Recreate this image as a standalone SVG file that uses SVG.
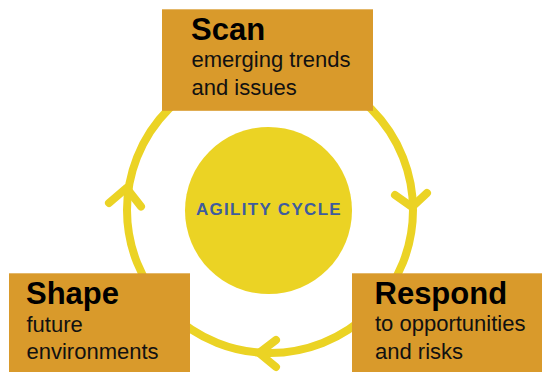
<svg xmlns="http://www.w3.org/2000/svg" width="542" height="372" viewBox="0 0 542 372">
<style>
.ring{fill:none;stroke:#EBD324;stroke-width:8}
.arr{fill:none;stroke:#EBD324;stroke-width:8;stroke-linecap:round;stroke-linejoin:round}
.box{fill:#D99A2B}
.title{font-family:"Liberation Sans",Arial,sans-serif;font-weight:bold;font-size:31px;fill:#000}
.sub{font-family:"Liberation Sans",Arial,sans-serif;font-size:22px;fill:#111}
.center{font-family:"Liberation Sans",Arial,sans-serif;font-weight:bold;font-size:17px;fill:#3E5C9E;letter-spacing:1.3px}
</style>
<rect width="542" height="372" fill="#fff"/>
<g id="connectors">
<circle class="ring" cx="270" cy="210" r="143"/>
<polyline class="arr" points="109,203 126.5,188 141,206.5"/>
<polyline class="arr" points="395,195 412,207 427,193"/>
<polyline class="arr" points="276,340 259,353 276,367"/>
</g>
<g id="agility">
<circle cx="268.5" cy="210.5" r="83.5" fill="#EBD324"/>
<text class="center" x="269" y="215" text-anchor="middle">AGILITY CYCLE</text>
</g>
<g id="scan">
<rect class="box" x="162" y="9.3" width="211" height="101.5"/>
<text class="title" x="191" y="39.5">Scan</text>
<text class="sub" x="191.5" y="67.3">emerging trends</text>
<text class="sub" x="191.5" y="94.5">and issues</text>
</g>
<g id="shape">
<rect class="box" x="9" y="273.3" width="181" height="98.7"/>
<text class="title" x="26" y="303.5">Shape</text>
<text class="sub" x="26.5" y="332">future</text>
<text class="sub" x="26.5" y="359.3">environments</text>
</g>
<g id="respond">
<rect class="box" x="352" y="273.3" width="190" height="98.7"/>
<text class="title" x="374.5" y="303.5">Respond</text>
<text class="sub" x="375" y="331.3">to opportunities</text>
<text class="sub" x="375" y="358.7">and risks</text>
</g>
</svg>
